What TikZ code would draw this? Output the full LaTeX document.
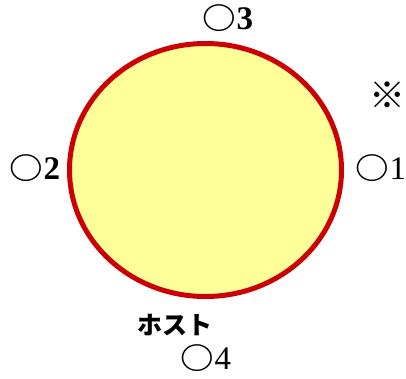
\documentclass[tikz,border=0pt]{standalone}
\usepackage{fontspec}
\setmainfont{Liberation Serif}
\newfontfamily\cjk{Noto Sans CJK JP}
\usetikzlibrary{shapes.geometric}
\definecolor{fillyel}{HTML}{FFFF99}
\definecolor{ringred}{HTML}{CC0000}
\newcommand\myring{{\fontsize{30}{34}\selectfont\cjk\bfseries\scalebox{1.12}[1]{○}}}
\tikzset{
  ring/.style={ellipse, draw=ringred, fill=fillyel, line width=5pt, inner sep=0pt,
    minimum width=272pt, minimum height=253pt},
  lbl/.style={inner sep=0pt, font=\fontsize{33}{36}\selectfont}
}
\begin{document}
\begin{tikzpicture}[x=1pt,y=-1pt]
\useasboundingbox (0,0) rectangle (406,378);
\node[ring] (host) at (205.5,170) {};
\node[lbl] (p3) at (228,18) {\myring\textbf{3}};
\node[lbl, font=\fontsize{36}{40}\selectfont\cjk\bfseries] (mark) at (387,95) {※};
\node[lbl] (p1) at (381,168) {\myring 1};
\node[lbl] (p2) at (35,168) {\myring\textbf{2}};
\node[lbl, font=\fontsize{25}{28}\selectfont\cjk\bfseries] (hostlbl) at (175,325) {ホスト};
\node[lbl] (p4) at (206,358) {\myring 4};
\end{tikzpicture}
\end{document}
